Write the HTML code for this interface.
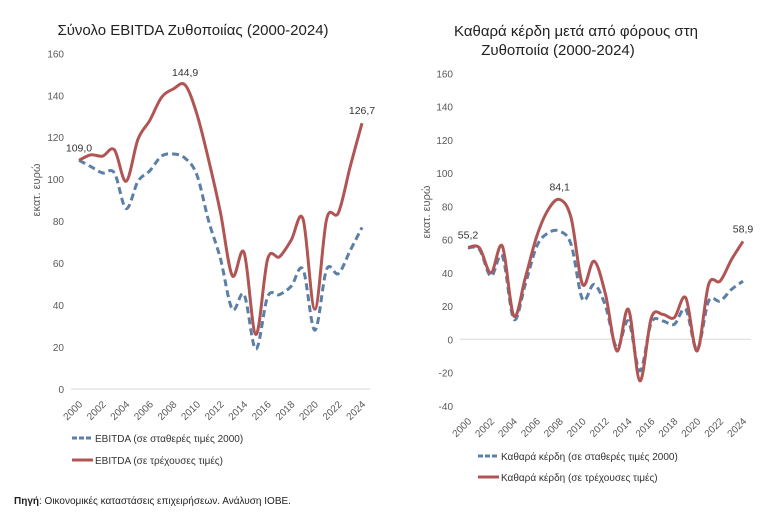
<!DOCTYPE html>
<html><head><meta charset="utf-8"><style>
body{margin:0;background:#fff;width:783px;height:513px;overflow:hidden;font-family:"Liberation Sans",sans-serif}
svg text{font-family:"Liberation Sans","DejaVu Sans",sans-serif}
</style></head><body>
<svg id="svg" width="783" height="513" xmlns="http://www.w3.org/2000/svg">
<text x="193" y="35" font-size="15" text-anchor="middle" fill="#222">Σύνολο EBITDA Ζυθοποιίας (2000-2024)</text>
<text x="576" y="36" font-size="15" text-anchor="middle" fill="#222">Καθαρά κέρδη μετά από φόρους στη</text>
<text x="558" y="55" font-size="15" text-anchor="middle" fill="#222">Ζυθοποιία (2000-2024)</text>
<g id="left"></g>
<g id="right"></g>
<g>
<line x1="72" y1="438" x2="92" y2="438" stroke="#5b7fa6" stroke-width="3" stroke-dasharray="5,2"/>
<text x="95" y="442" font-size="10" fill="#333">EBITDA (σε σταθερές τιμές 2000)</text>
<line x1="72" y1="460" x2="93" y2="460" stroke="#b05553" stroke-width="3"/>
<text x="95" y="464" font-size="10" fill="#333">EBITDA (σε τρέχουσες τιμές)</text>
</g>
<g>
<line x1="318" y1="456" x2="339" y2="456" stroke="#5b7fa6" stroke-width="3" stroke-dasharray="5,2" transform="translate(160,0)"/>
<text x="501" y="460" font-size="10" fill="#333">Καθαρά κέρδη (σε σταθερές τιμές 2000)</text>
<line x1="478" y1="477" x2="499" y2="477" stroke="#b05553" stroke-width="3"/>
<text x="501" y="481" font-size="10" fill="#333">Καθαρά κέρδη (σε τρέχουσες τιμές)</text>
</g>
<text x="14" y="504" font-size="10" fill="#222"><tspan font-weight="bold">Πηγή</tspan>: Οικονομικές καταστάσεις επιχειρήσεων. Ανάλυση ΙΟΒΕ.</text>
</svg>
<script>
const years=[2000,2001,2002,2003,2004,2005,2006,2007,2008,2009,2010,2011,2012,2013,2014,2015,2016,2017,2018,2019,2020,2021,2022,2023,2024];
const ebitdaCurrent=[109,111.6,111,114,99,119,128,139,143,144.9,131,109,84,54,65,26,62,63,71,81,38,81,84,106,126.7];
const ebitdaConstant=[109,106,103,103,86,99,104,111,112,110,102,80,62,38,45,19,44,45,49,57,28,57,55,66,77];
const profitCurrent=[55.2,55,40,56,14,37,62,78,84.1,73,33,47,27,-7,18,-25,13,15,13,25,-7,33,35,48,58.9];
const profitConstant=[55,54,38,50,12,33,56,64,65,57,24,33,20,-5,11,-19,10,11,9,18,-6,23,23,30,35];
const leftTicks=[0,20,40,60,80,100,120,140,160];
const rightTicks=[-40,-20,0,20,40,60,80,100,120,140,160];
const tickYears=[2000,2002,2004,2006,2008,2010,2012,2014,2016,2018,2020,2022,2024];
const leftLabels=[[0,"109,0"],[9,"144,9"],[24,"126,7"]];
const rightLabels=[[0,"55,2"],[8,"84,1"],[24,"58,9"]];
const NS="http://www.w3.org/2000/svg";
function mk(tag,attrs,parent){const e=document.createElementNS(NS,tag);for(const k in attrs)e.setAttribute(k,attrs[k]);parent.appendChild(e);return e;}
function smooth(pts){let d="M"+pts[0][0]+","+pts[0][1];for(let i=0;i<pts.length-1;i++){const p0=pts[i-1]||pts[i],p1=pts[i],p2=pts[i+1],p3=pts[i+2]||p2;const t=6;d+=" C"+(p1[0]+(p2[0]-p0[0])/t)+","+(p1[1]+(p2[1]-p0[1])/t)+" "+(p2[0]-(p3[0]-p1[0])/t)+","+(p2[1]-(p3[1]-p1[1])/t)+" "+p2[0]+","+p2[1];}return d;}
function draw(g,cfg){
 const x=yr=>cfg.x0+(yr-2000)*(cfg.x1-cfg.x0)/24;
 const y=v=>cfg.yz+(v-cfg.vmin)*(cfg.yt-cfg.yz)/(cfg.vmax-cfg.vmin);
 cfg.ticks.forEach(t=>{const e=mk("text",{x:cfg.tx,y:y(t)+4,"font-size":10,fill:"#595959","text-anchor":"end"},g);e.textContent=t;
 
 });
 const ax=mk("line",{x1:cfg.x0-8,x2:cfg.x1+8,y1:y(0),y2:y(0),stroke:"#d9d9d9","stroke-width":1},g);
 
 
 const by=cfg.xl;
 tickYears.forEach(yr=>{const e=mk("text",{x:x(yr)+4,y:by,"font-size":10,fill:"#595959","text-anchor":"end",transform:"rotate(-45 "+(x(yr)+4)+" "+by+")"},g);e.textContent=yr;
 
 });
 const yt=mk("text",{x:cfg.ax,y:cfg.ay,"font-size":11,fill:"#595959","text-anchor":"middle",transform:"rotate(-90 "+cfg.ax+" "+cfg.ay+")"},g);yt.textContent="εκατ. ευρώ";
 
 
 const p1=mk("path",{d:smooth(years.map((yr,i)=>[x(yr),y(cfg.constant[i])])),fill:"none",stroke:"#5b7fa6","stroke-width":3,"stroke-dasharray":"7,4"},g);
 
 
 const p2=mk("path",{d:smooth(years.map((yr,i)=>[x(yr),y(cfg.current[i])])),fill:"none",stroke:"#b05553","stroke-width":3},g);
 
 
 cfg.labels.forEach(([i,s])=>{const e=mk("text",{x:x(years[i]),y:y(cfg.current[i])-9,"font-size":10.5,fill:"#333","text-anchor":"middle"},g);e.textContent=s;
 
 });
}
draw(document.getElementById("left"),{x0:79,x1:362,yz:389,yt:53.3,vmin:0,vmax:160,tx:64,ticks:leftTicks,xl:405,ax:40,ay:190,current:ebitdaCurrent,constant:ebitdaConstant,labels:leftLabels});
draw(document.getElementById("right"),{x0:468,x1:743,yz:339.3,yt:73.3,vmin:0,vmax:160,tx:453,ticks:rightTicks,xl:422,ax:430,ay:212,current:profitCurrent,constant:profitConstant,labels:rightLabels});
</script>
</body></html>
